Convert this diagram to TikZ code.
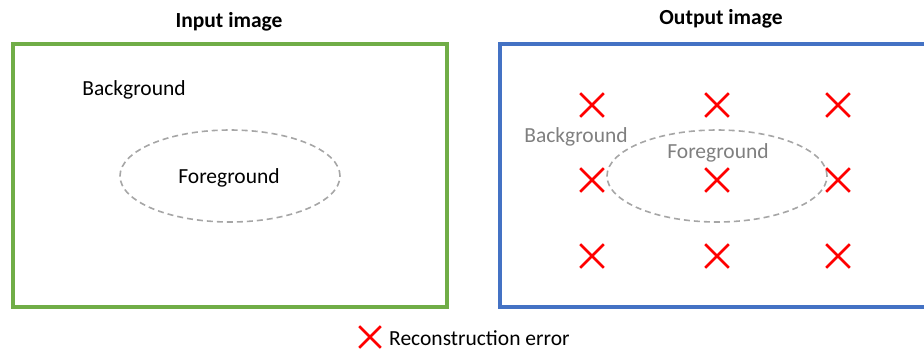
\documentclass[tikz,border=0pt]{standalone}
\usepackage{fontspec}
\setmainfont{Carlito}
\usetikzlibrary{shapes.geometric, shapes.misc, positioning}
\definecolor{frameGreen}{HTML}{70AD47}
\definecolor{frameBlue}{HTML}{4472C4}
\definecolor{fgGray}{HTML}{A6A6A6}
\definecolor{txtGray}{HTML}{7F7F7F}

\begin{document}
\begin{tikzpicture}[x=1pt, y=-1pt,
    frame/.style={line width=3.2pt},
    region/.style={ellipse, draw=fgGray, line width=1.6pt, dash pattern=on 6pt off 4pt,
      minimum width=220pt, minimum height=92pt, inner sep=0pt},
    lbl/.style={font=\fontsize{21.5}{24}\selectfont, inner sep=0pt},
    errmark/.style={cross out, draw=red, line width=2.6pt, minimum size=21pt, inner sep=0pt}]
    \useasboundingbox (0,0) rectangle (924,349);
    % input image
    \node[lbl, font=\fontsize{21.5}{24}\selectfont\bfseries] (tin) at (229,22) {Input image};
    \draw[frame, frameGreen] (13,44) rectangle (447,307);
    \node[lbl] (bgin) at (134,90) {Background};
    \node[region] (fgin) at (230,176) {};
    \node[lbl] (fgtxt) at (229,178) {Foreground};
    % output image
    \node[lbl, font=\fontsize{21.5}{24}\selectfont\bfseries] (tout) at (721,19) {Output image};
    \draw[frame, frameBlue] (500,44) rectangle (930,307);
    \node[region] (fgout) at (717,176) {};
    \node[lbl, txtGray] (bgout) at (576,137) {Background};
    \node[lbl, txtGray] (fgout txt) at (718,153) {Foreground};
    \foreach \c [count=\i] in {592,717,838}
      \foreach \r [count=\j] in {105,180,256}
        \node[errmark] (err\i\j) at (\c,\r) {};
    % legend
    \node[errmark, minimum size=19pt] (legmark) at (370,337) {};
    \node[lbl, anchor=west] (legtxt) at (389,338) {Reconstruction error};
\end{tikzpicture}
\end{document}
